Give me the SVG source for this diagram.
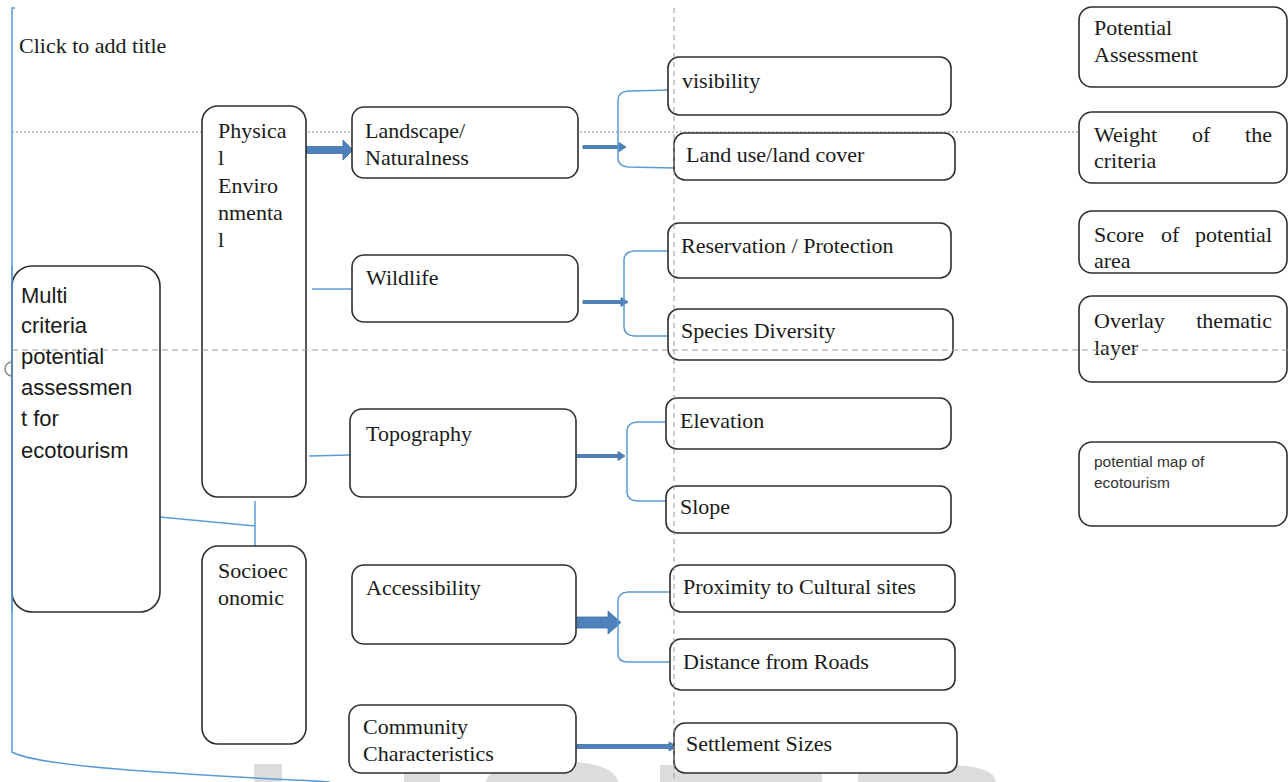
<svg xmlns="http://www.w3.org/2000/svg" width="1288" height="782" viewBox="0 0 1288 782">
<defs>
<style>
.bx{fill:#fff;stroke:#2e2e2e;stroke-width:1.6}
.t{font-family:"Liberation Serif","Times New Roman",serif;font-size:22px;fill:#1a1a1a}
.s{font-family:"Liberation Sans",Arial,sans-serif;font-size:22px;fill:#1a1a1a}
.ln{fill:none;stroke:#5b9bd5;stroke-width:1.5}
.ar{fill:#4f81bd;stroke:#3d6ea6;stroke-width:0.8}
.wm{fill:#dcdcdc}
</style>
</defs>
<rect width="1288" height="782" fill="#fff"/>
<g id="watermark">
<rect class="wm" x="254" y="764" width="28" height="18"/>
<rect class="wm" x="404" y="772" width="36" height="10"/>
<path class="wm" d="M486,782 Q490,761 552,761 Q614,761 618,782 Z"/>
<rect class="wm" x="660" y="765" width="162" height="17"/>
<path class="wm" d="M858,782 V765 H945 Q994,765 996,782 Z"/>
</g>
<g id="guides-back">
<line x1="12" y1="132" x2="1078" y2="132" stroke="#8a8a8a" stroke-width="1" stroke-dasharray="2,2"/>
</g>
<g id="frame">
<path class="ln" d="M15,8 H12 V752 C40,768 200,775 330,782"/>
</g>
<text class="t" x="19" y="53">Click to add title</text>
<g id="connectors">
<polygon class="ar" points="304,146.5 343,146.5 343,140 353,150 343,160 343,153.5 304,153.5"/>
<line class="ln" x1="312" y1="289" x2="352" y2="289"/>
<line class="ln" x1="309" y1="456" x2="350" y2="455"/>
<path class="ln" d="M160,517 L255,526"/>
<line class="ln" x1="255" y1="501" x2="255" y2="546"/>
<polygon class="ar" points="583,145.5 619,145.5 619,142.5 626,147 619,151.5 619,148.5 583,148.5"/>
<path class="ln" d="M673,90 L628,91 Q618,92 618,100 L618,158 Q618,166 628,167 L674,168"/>
<polygon class="ar" points="583,300.5 621,300.5 621,297.5 628,302 621,306.5 621,303.5 583,303.5"/>
<path class="ln" d="M668,251 L634,251 Q624,252 624,260 L624,327 Q624,335 634,336 L668,336"/>
<polygon class="ar" points="577,454.5 618,454.5 618,451.5 625,456 618,460.5 618,457.5 577,457.5"/>
<path class="ln" d="M666,422 L637,422 Q627,423 627,431 L627,492 Q627,500 637,501 L666,501"/>
<polygon class="ar" points="577,617 608,617 608,611 621,622.5 608,634 608,628 577,628"/>
<path class="ln" d="M670,592 L628,592 Q618,593 618,601 L618,654 Q618,662 628,662 L670,662"/>
<polygon class="ar" points="577,744.5 669,744.5 669,742 677,746.5 669,751 669,748.5 577,748.5"/>
</g>
<g id="n-multi">
<rect class="bx" x="12" y="266" width="148" height="346" rx="20"/>
<text class="s" x="21" y="303">Multi</text>
<text class="s" x="21" y="333">criteria</text>
<text class="s" x="21" y="364">potential</text>
<text class="s" x="21" y="395">assessmen</text>
<text class="s" x="21" y="426">t for</text>
<text class="s" x="21" y="458">ecotourism</text>
</g>
<line class="ln" x1="12" y1="266" x2="12" y2="612"/>
<path d="M12,362 A7,7 0 0 0 12,376" fill="none" stroke="#8a8a8a" stroke-width="1.5"/>
<g id="n-physical">
<rect class="bx" x="202" y="106" width="104" height="391" rx="16"/>
<text class="t" x="218" y="138">Physica</text>
<text class="t" x="218" y="165">l</text>
<text class="t" x="218" y="193">Enviro</text>
<text class="t" x="218" y="220">nmenta</text>
<text class="t" x="218" y="247">l</text>
</g>
<g id="n-socio">
<rect class="bx" x="202" y="546" width="104" height="198" rx="16"/>
<text class="t" x="218" y="578">Socioec</text>
<text class="t" x="218" y="605">onomic</text>
</g>
<g id="n-landscape">
<rect class="bx" x="352" y="107" width="226" height="71" rx="12"/>
<text class="t" x="365" y="138">Landscape/</text>
<text class="t" x="365" y="165">Naturalness</text>
</g>
<g id="n-wildlife">
<rect class="bx" x="352" y="255" width="226" height="67" rx="12"/>
<text class="t" x="366" y="285">Wildlife</text>
</g>
<g id="n-topography">
<rect class="bx" x="350" y="409" width="226" height="88" rx="12"/>
<text class="t" x="366" y="441">Topography</text>
</g>
<g id="n-accessibility">
<rect class="bx" x="352" y="565" width="224" height="79" rx="12"/>
<text class="t" x="366" y="595">Accessibility</text>
</g>
<g id="n-community">
<rect class="bx" x="349" y="705" width="227" height="68" rx="12"/>
<text class="t" x="363" y="734">Community</text>
<text class="t" x="363" y="761">Characteristics</text>
</g>
<g id="n-visibility">
<rect class="bx" x="668" y="57" width="283" height="58" rx="11"/>
<text class="t" x="682" y="88">visibility</text>
</g>
<g id="n-landuse">
<rect class="bx" x="674" y="133" width="281" height="47" rx="11"/>
<text class="t" x="686" y="162">Land use/land cover</text>
</g>
<g id="n-reservation">
<rect class="bx" x="668" y="223" width="283" height="55" rx="11"/>
<text class="t" x="681" y="253">Reservation / Protection</text>
</g>
<g id="n-species">
<rect class="bx" x="668" y="309" width="285" height="51" rx="11"/>
<text class="t" x="681" y="338">Species Diversity</text>
</g>
<g id="n-elevation">
<rect class="bx" x="666" y="398" width="285" height="51" rx="11"/>
<text class="t" x="680" y="428">Elevation</text>
</g>
<g id="n-slope">
<rect class="bx" x="666" y="486" width="285" height="47" rx="11"/>
<text class="t" x="680" y="514">Slope</text>
</g>
<g id="n-proximity">
<rect class="bx" x="670" y="565" width="285" height="47" rx="11"/>
<text class="t" x="683" y="594">Proximity to Cultural sites</text>
</g>
<g id="n-distance">
<rect class="bx" x="670" y="639" width="285" height="51" rx="11"/>
<text class="t" x="683" y="669">Distance from Roads</text>
</g>
<g id="n-settlement">
<rect class="bx" x="674" y="723" width="283" height="50" rx="11"/>
<text class="t" x="686" y="751">Settlement Sizes</text>
</g>
<g id="n-potential">
<rect class="bx" x="1079" y="7" width="208" height="80" rx="13"/>
<text class="t" x="1094" y="35">Potential</text>
<text class="t" x="1094" y="62">Assessment</text>
</g>
<g id="n-weight">
<rect class="bx" x="1079" y="112" width="208" height="71" rx="13"/>
<text class="t" x="1094" y="142">Weight</text>
<text class="t" x="1192" y="142">of</text>
<text class="t" x="1272" y="142" text-anchor="end">the</text>
<text class="t" x="1094" y="168">criteria</text>
</g>
<g id="n-score">
<rect class="bx" x="1079" y="211" width="208" height="62" rx="13"/>
<text class="t" x="1094" y="242">Score</text>
<text class="t" x="1161" y="242">of</text>
<text class="t" x="1272" y="242" text-anchor="end">potential</text>
<text class="t" x="1094" y="268">area</text>
</g>
<g id="n-overlay">
<rect class="bx" x="1079" y="296" width="208" height="86" rx="13"/>
<text class="t" x="1094" y="328">Overlay</text>
<text class="t" x="1272" y="328" text-anchor="end">thematic</text>
<text class="t" x="1094" y="355">layer</text>
</g>
<g id="n-map">
<rect class="bx" x="1079" y="442" width="208" height="84" rx="13"/>
<text class="s" x="1094" y="467" style="font-size:15.5px;fill:#333">potential map of</text>
<text class="s" x="1094" y="488" style="font-size:15.5px;fill:#333">ecotourism</text>
</g>
<g id="guides-front">
<line x1="12" y1="350" x2="1288" y2="350" stroke="#9a9a9a" stroke-width="1" stroke-dasharray="6,4"/>
<line x1="674" y1="8" x2="674" y2="782" stroke="#9a9a9a" stroke-width="1" stroke-dasharray="5,4"/>
</g>
</svg>
